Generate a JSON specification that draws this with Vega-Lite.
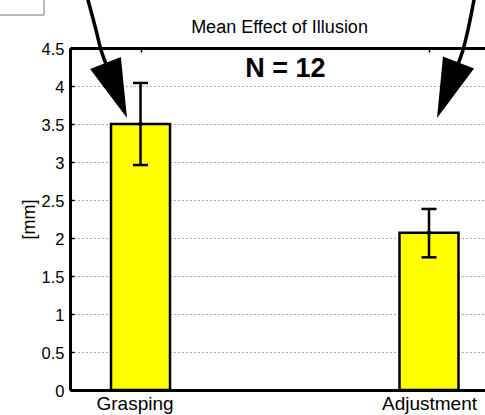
{
  "$schema": "https://vega.github.io/schema/vega-lite/v6.json",
  "width": 415,
  "height": 342,
  "autosize": {"type": "none"},
  "padding": {"left": 70, "top": 48, "right": 0, "bottom": 25},
  "background": "white",
  "config": {
    "view": {"stroke": null},
    "font": "Liberation Sans",
    "text": {"font": "Liberation Sans"},
    "axisY": {"titleFontSize": 18, "titleFont": "Liberation Sans", "titleFontWeight": "normal", "titleColor": "black", "labelFontSize": 16.5, "labelFont": "Liberation Sans", "labelColor": "black"},
    "axisX": {"labelFontSize": 19, "labelFont": "Liberation Sans", "labelColor": "black"}
  },
  "resolve": {"axis": {"x": "independent"}},
  "datasets": {
    "bars": [
      {"cond": "Grasping", "x": 1, "y": 3.5, "lo": 2.96, "hi": 4.04},
      {"cond": "Adjustment", "x": 2, "y": 2.07, "lo": 1.746, "hi": 2.382}
    ],
    "arrows": [
      {"arrow": "L", "i": 0, "x": 0.8086, "y": 5.263},
      {"arrow": "L", "i": 1, "x": 0.818, "y": 5.132},
      {"arrow": "L", "i": 2, "x": 0.8457, "y": 4.737},
      {"arrow": "L", "i": 3, "x": 0.8631, "y": 4.474},
      {"arrow": "L", "i": 4, "x": 0.8804, "y": 4.289},
      {"arrow": "R", "i": 0, "x": 2.1629, "y": 5.263},
      {"arrow": "R", "i": 1, "x": 2.1559, "y": 5.132},
      {"arrow": "R", "i": 2, "x": 2.1351, "y": 4.737},
      {"arrow": "R", "i": 3, "x": 2.1178, "y": 4.474},
      {"arrow": "R", "i": 4, "x": 2.1022, "y": 4.303}
    ]
  },
  "layer": [
    {
      "data": {"name": "bars"},
      "mark": {"type": "bar", "orient": "vertical", "size": 59, "fill": "#ffff00", "stroke": "black", "strokeWidth": 2.5},
      "encoding": {
        "x": {"field": "x", "type": "quantitative", "scale": {"domain": [0.7556, 2.1941], "nice": false, "zero": false, "padding": 0},
          "axis": {"orient": "bottom", "values": [1, 2], "labelExpr": "datum.value == 1 ? 'Grasping' : 'Adjustment'", "labelOffset": {"condition": {"test": "datum.value == 1", "value": -6}, "value": 0}, "ticks": false, "grid": false, "domain": true, "domainColor": "black", "domainWidth": 3, "labelFontSize": 19, "labelColor": "black", "labelPadding": 4, "labelFont": "Liberation Sans", "title": null}},
        "y": {"field": "y", "type": "quantitative", "scale": {"domain": [0, 4.5], "nice": false, "zero": false, "padding": 0},
          "axis": {"values": [0, 0.5, 1, 1.5, 2, 2.5, 3, 3.5, 4, 4.5], "format": "~g", "grid": true, "gridDash": [1, 3], "gridColor": "#555", "gridWidth": 1, "domainColor": "black", "domainWidth": 3, "tickSize": -4, "tickColor": "black", "tickWidth": 1.5, "labelPadding": 10, "labelOffset": 1.5, "labelFontSize": 16.5, "labelColor": "black", "labelFont": "Liberation Sans", "title": "[mm]", "titleFontSize": 18, "titleFontWeight": "normal", "titleFont": "Liberation Sans", "titleColor": "black", "titleX": -41, "titleY": 171, "titleAngle": 270, "titleBaseline": "middle", "titleAlign": "center"}}
      }
    },
    {
      "data": {"name": "bars"},
      "mark": {"type": "rule", "color": "black", "strokeWidth": 2.5},
      "encoding": {
        "x": {"field": "x", "type": "quantitative", "scale": {"domain": [0.7556, 2.1941], "nice": false, "zero": false, "padding": 0}, "axis": null},
        "y": {"field": "lo", "type": "quantitative", "scale": {"domain": [0, 4.5], "nice": false, "zero": false, "padding": 0},
          "axis": {"values": [0, 0.5, 1, 1.5, 2, 2.5, 3, 3.5, 4, 4.5], "format": "~g", "grid": true, "gridDash": [1, 3], "gridColor": "#555", "gridWidth": 1, "domainColor": "black", "domainWidth": 3, "tickSize": -4, "tickColor": "black", "tickWidth": 1.5, "labelPadding": 10, "labelOffset": 1.5, "labelFontSize": 16.5, "labelColor": "black", "labelFont": "Liberation Sans", "title": "[mm]", "titleFontSize": 18, "titleFontWeight": "normal", "titleFont": "Liberation Sans", "titleColor": "black", "titleX": -41, "titleY": 171, "titleAngle": 270, "titleBaseline": "middle", "titleAlign": "center"}},
        "y2": {"field": "hi"}
      }
    },
    {
      "data": {"name": "bars"},
      "mark": {"type": "tick", "orient": "horizontal", "size": 15, "thickness": 2.5, "color": "black", "opacity": 1},
      "encoding": {
        "x": {"field": "x", "type": "quantitative", "scale": {"domain": [0.7556, 2.1941], "nice": false, "zero": false, "padding": 0}, "axis": null},
        "y": {"field": "lo", "type": "quantitative", "scale": {"domain": [0, 4.5], "nice": false, "zero": false, "padding": 0},
          "axis": {"values": [0, 0.5, 1, 1.5, 2, 2.5, 3, 3.5, 4, 4.5], "format": "~g", "grid": true, "gridDash": [1, 3], "gridColor": "#555", "gridWidth": 1, "domainColor": "black", "domainWidth": 3, "tickSize": -4, "tickColor": "black", "tickWidth": 1.5, "labelPadding": 10, "labelOffset": 1.5, "labelFontSize": 16.5, "labelColor": "black", "labelFont": "Liberation Sans", "title": "[mm]", "titleFontSize": 18, "titleFontWeight": "normal", "titleFont": "Liberation Sans", "titleColor": "black", "titleX": -41, "titleY": 171, "titleAngle": 270, "titleBaseline": "middle", "titleAlign": "center"}}
      }
    },
    {
      "data": {"name": "bars"},
      "mark": {"type": "tick", "orient": "horizontal", "size": 15, "thickness": 2.5, "color": "black", "opacity": 1},
      "encoding": {
        "x": {"field": "x", "type": "quantitative", "scale": {"domain": [0.7556, 2.1941], "nice": false, "zero": false, "padding": 0}, "axis": null},
        "y": {"field": "hi", "type": "quantitative", "scale": {"domain": [0, 4.5], "nice": false, "zero": false, "padding": 0},
          "axis": {"values": [0, 0.5, 1, 1.5, 2, 2.5, 3, 3.5, 4, 4.5], "format": "~g", "grid": true, "gridDash": [1, 3], "gridColor": "#555", "gridWidth": 1, "domainColor": "black", "domainWidth": 3, "tickSize": -4, "tickColor": "black", "tickWidth": 1.5, "labelPadding": 10, "labelOffset": 1.5, "labelFontSize": 16.5, "labelColor": "black", "labelFont": "Liberation Sans", "title": "[mm]", "titleFontSize": 18, "titleFontWeight": "normal", "titleFont": "Liberation Sans", "titleColor": "black", "titleX": -41, "titleY": 171, "titleAngle": 270, "titleBaseline": "middle", "titleAlign": "center"}}
      }
    },
    {
      "data": {"name": "bars"},
      "mark": {"type": "point", "filled": true, "color": "black", "size": 20, "opacity": 1},
      "encoding": {
        "x": {"field": "x", "type": "quantitative", "scale": {"domain": [0.7556, 2.1941], "nice": false, "zero": false, "padding": 0},
          "axis": {"orient": "top", "values": [1, 2], "labels": false, "ticks": true, "tickSize": -4, "tickColor": "black", "tickWidth": 1.5, "domain": true, "domainColor": "black", "domainWidth": 3, "grid": false, "title": null}},
        "y": {"field": "y", "type": "quantitative", "scale": {"domain": [0, 4.5], "nice": false, "zero": false, "padding": 0},
          "axis": {"values": [0, 0.5, 1, 1.5, 2, 2.5, 3, 3.5, 4, 4.5], "format": "~g", "grid": true, "gridDash": [1, 3], "gridColor": "#555", "gridWidth": 1, "domainColor": "black", "domainWidth": 3, "tickSize": -4, "tickColor": "black", "tickWidth": 1.5, "labelPadding": 10, "labelOffset": 1.5, "labelFontSize": 16.5, "labelColor": "black", "labelFont": "Liberation Sans", "title": "[mm]", "titleFontSize": 18, "titleFontWeight": "normal", "titleFont": "Liberation Sans", "titleColor": "black", "titleX": -41, "titleY": 171, "titleAngle": 270, "titleBaseline": "middle", "titleAlign": "center"}}
      }
    },
    {
      "data": {"values": [{"label": "Mean Effect of Illusion", "x": 1.4818, "y": 4.697}]},
      "mark": {"type": "text", "fontSize": 18, "font": "Liberation Sans", "align": "center", "baseline": "alphabetic", "color": "black"},
      "encoding": {
        "x": {"field": "x", "type": "quantitative", "scale": {"domain": [0.7556, 2.1941], "nice": false, "zero": false, "padding": 0}, "axis": null},
        "y": {"field": "y", "type": "quantitative", "scale": {"domain": [0, 4.5], "nice": false, "zero": false, "padding": 0},
          "axis": {"values": [0, 0.5, 1, 1.5, 2, 2.5, 3, 3.5, 4, 4.5], "format": "~g", "grid": true, "gridDash": [1, 3], "gridColor": "#555", "gridWidth": 1, "domainColor": "black", "domainWidth": 3, "tickSize": -4, "tickColor": "black", "tickWidth": 1.5, "labelPadding": 10, "labelOffset": 1.5, "labelFontSize": 16.5, "labelColor": "black", "labelFont": "Liberation Sans", "title": "[mm]", "titleFontSize": 18, "titleFontWeight": "normal", "titleFont": "Liberation Sans", "titleColor": "black", "titleX": -41, "titleY": 171, "titleAngle": 270, "titleBaseline": "middle", "titleAlign": "center"}},
        "text": {"field": "label"}
      }
    },
    {
      "data": {"values": [{"label": "N = 12", "x": 1.502, "y": 4.118}]},
      "mark": {"type": "text", "fontSize": 27, "fontWeight": "bold", "font": "Liberation Sans", "align": "center", "baseline": "alphabetic", "color": "black"},
      "encoding": {
        "x": {"field": "x", "type": "quantitative", "scale": {"domain": [0.7556, 2.1941], "nice": false, "zero": false, "padding": 0}, "axis": null},
        "y": {"field": "y", "type": "quantitative", "scale": {"domain": [0, 4.5], "nice": false, "zero": false, "padding": 0},
          "axis": {"values": [0, 0.5, 1, 1.5, 2, 2.5, 3, 3.5, 4, 4.5], "format": "~g", "grid": true, "gridDash": [1, 3], "gridColor": "#555", "gridWidth": 1, "domainColor": "black", "domainWidth": 3, "tickSize": -4, "tickColor": "black", "tickWidth": 1.5, "labelPadding": 10, "labelOffset": 1.5, "labelFontSize": 16.5, "labelColor": "black", "labelFont": "Liberation Sans", "title": "[mm]", "titleFontSize": 18, "titleFontWeight": "normal", "titleFont": "Liberation Sans", "titleColor": "black", "titleX": -41, "titleY": 171, "titleAngle": 270, "titleBaseline": "middle", "titleAlign": "center"}},
        "text": {"field": "label"}
      }
    },
    {
      "data": {"name": "arrows"},
      "mark": {"type": "line", "color": "black", "strokeWidth": 3.5, "interpolate": "catmull-rom"},
      "encoding": {
        "x": {"field": "x", "type": "quantitative", "scale": {"domain": [0.7556, 2.1941], "nice": false, "zero": false, "padding": 0}, "axis": null},
        "y": {"field": "y", "type": "quantitative", "scale": {"domain": [0, 4.5], "nice": false, "zero": false, "padding": 0},
          "axis": {"values": [0, 0.5, 1, 1.5, 2, 2.5, 3, 3.5, 4, 4.5], "format": "~g", "grid": true, "gridDash": [1, 3], "gridColor": "#555", "gridWidth": 1, "domainColor": "black", "domainWidth": 3, "tickSize": -4, "tickColor": "black", "tickWidth": 1.5, "labelPadding": 10, "labelOffset": 1.5, "labelFontSize": 16.5, "labelColor": "black", "labelFont": "Liberation Sans", "title": "[mm]", "titleFontSize": 18, "titleFontWeight": "normal", "titleFont": "Liberation Sans", "titleColor": "black", "titleX": -41, "titleY": 171, "titleAngle": 270, "titleBaseline": "middle", "titleAlign": "center"}},
        "detail": {"field": "arrow"},
        "order": {"field": "i", "type": "quantitative"}
      }
    },
    {
      "data": {"values": [{"arrow": "L", "x": 0.9159, "y": 3.941}]},
      "mark": {"type": "point", "shape": "M-0.56,-1L0.56,-1L0,1Z", "filled": true, "color": "black", "opacity": 1, "size": 3481, "angle": 338.6},
      "encoding": {
        "x": {"field": "x", "type": "quantitative", "scale": {"domain": [0.7556, 2.1941], "nice": false, "zero": false, "padding": 0}, "axis": null},
        "y": {"field": "y", "type": "quantitative", "scale": {"domain": [0, 4.5], "nice": false, "zero": false, "padding": 0},
          "axis": {"values": [0, 0.5, 1, 1.5, 2, 2.5, 3, 3.5, 4, 4.5], "format": "~g", "grid": true, "gridDash": [1, 3], "gridColor": "#555", "gridWidth": 1, "domainColor": "black", "domainWidth": 3, "tickSize": -4, "tickColor": "black", "tickWidth": 1.5, "labelPadding": 10, "labelOffset": 1.5, "labelFontSize": 16.5, "labelColor": "black", "labelFont": "Liberation Sans", "title": "[mm]", "titleFontSize": 18, "titleFontWeight": "normal", "titleFont": "Liberation Sans", "titleColor": "black", "titleX": -41, "titleY": 171, "titleAngle": 270, "titleBaseline": "middle", "titleAlign": "center"}}
      }
    },
    {
      "data": {"values": [{"arrow": "R", "x": 2.065, "y": 3.944}]},
      "mark": {"type": "point", "shape": "M-0.56,-1L0.56,-1L0,1Z", "filled": true, "color": "black", "opacity": 1, "size": 3540, "angle": 21.2},
      "encoding": {
        "x": {"field": "x", "type": "quantitative", "scale": {"domain": [0.7556, 2.1941], "nice": false, "zero": false, "padding": 0}, "axis": null},
        "y": {"field": "y", "type": "quantitative", "scale": {"domain": [0, 4.5], "nice": false, "zero": false, "padding": 0},
          "axis": {"values": [0, 0.5, 1, 1.5, 2, 2.5, 3, 3.5, 4, 4.5], "format": "~g", "grid": true, "gridDash": [1, 3], "gridColor": "#555", "gridWidth": 1, "domainColor": "black", "domainWidth": 3, "tickSize": -4, "tickColor": "black", "tickWidth": 1.5, "labelPadding": 10, "labelOffset": 1.5, "labelFontSize": 16.5, "labelColor": "black", "labelFont": "Liberation Sans", "title": "[mm]", "titleFontSize": 18, "titleFontWeight": "normal", "titleFont": "Liberation Sans", "titleColor": "black", "titleX": -41, "titleY": 171, "titleAngle": 270, "titleBaseline": "middle", "titleAlign": "center"}}
      }
    },
    {
      "data": {"values": [{"x": 0.4956, "x2": 0.6655, "y": 4.934, "y2": 5.2}]},
      "mark": {"type": "rect", "fill": "white", "stroke": "#777", "strokeWidth": 1},
      "encoding": {
        "x": {"field": "x", "type": "quantitative", "scale": {"domain": [0.7556, 2.1941], "nice": false, "zero": false, "padding": 0}, "axis": null},
        "x2": {"field": "x2"},
        "y": {"field": "y", "type": "quantitative", "scale": {"domain": [0, 4.5], "nice": false, "zero": false, "padding": 0},
          "axis": {"values": [0, 0.5, 1, 1.5, 2, 2.5, 3, 3.5, 4, 4.5], "format": "~g", "grid": true, "gridDash": [1, 3], "gridColor": "#555", "gridWidth": 1, "domainColor": "black", "domainWidth": 3, "tickSize": -4, "tickColor": "black", "tickWidth": 1.5, "labelPadding": 10, "labelOffset": 1.5, "labelFontSize": 16.5, "labelColor": "black", "labelFont": "Liberation Sans", "title": "[mm]", "titleFontSize": 18, "titleFontWeight": "normal", "titleFont": "Liberation Sans", "titleColor": "black", "titleX": -41, "titleY": 171, "titleAngle": 270, "titleBaseline": "middle", "titleAlign": "center"}},
        "y2": {"field": "y2"}
      }
    }
  ]
}
